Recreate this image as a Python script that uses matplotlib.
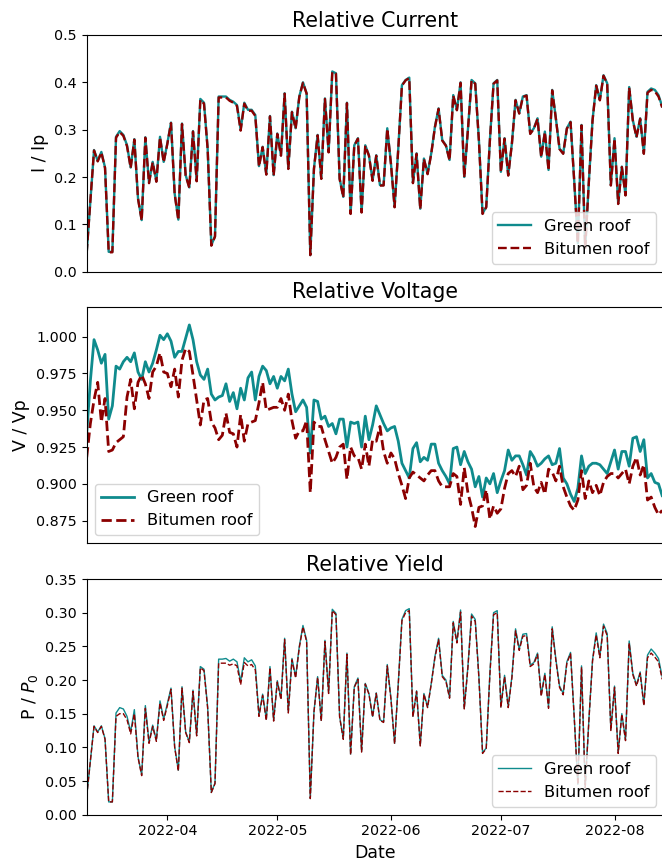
import pandas as pd
import matplotlib
matplotlib.use('Agg')
import matplotlib.pyplot as plt
import matplotlib.dates as mdates
from matplotlib.ticker import MultipleLocator, FormatStrFormatter

# daily measurements, 2022-03-10 .. 2022-08-14
dates = pd.date_range('2022-03-10', periods=158, freq='D')

green_current = [
    0.04, 0.15, 0.257, 0.234, 0.253, 0.22, 0.042, 0.042, 0.285, 0.297,
    0.289, 0.267, 0.22, 0.28, 0.155, 0.109, 0.284, 0.188, 0.232, 0.191,
    0.285, 0.232, 0.271, 0.315, 0.165, 0.11, 0.313, 0.204, 0.178, 0.297,
    0.192, 0.365, 0.357, 0.26, 0.056, 0.075, 0.37, 0.37, 0.37, 0.363,
    0.359, 0.352, 0.30, 0.357, 0.342, 0.342, 0.331, 0.223, 0.264, 0.206,
    0.329, 0.204, 0.292, 0.246, 0.377, 0.218, 0.338, 0.303, 0.37, 0.40,
    0.377, 0.035, 0.218, 0.289, 0.197, 0.366, 0.253, 0.423, 0.419, 0.197,
    0.158, 0.357, 0.123, 0.267, 0.282, 0.126, 0.267, 0.246, 0.193, 0.246,
    0.183, 0.183, 0.303, 0.229, 0.137, 0.26, 0.394, 0.405, 0.41, 0.188,
    0.25, 0.133, 0.239, 0.207, 0.25, 0.306, 0.345, 0.278, 0.267, 0.236,
    0.373, 0.342, 0.40, 0.20, 0.30, 0.405, 0.398, 0.278, 0.123, 0.137,
    0.278, 0.398, 0.405, 0.211, 0.282, 0.204, 0.271, 0.363, 0.335, 0.37,
    0.373, 0.292, 0.303, 0.324, 0.243, 0.296, 0.215, 0.384, 0.324, 0.26,
    0.25, 0.303, 0.317, 0.193, 0.06, 0.31, 0.05, 0.19, 0.32, 0.394,
    0.363, 0.415, 0.398, 0.183, 0.282, 0.144, 0.222, 0.162, 0.39, 0.32,
    0.285, 0.324, 0.25, 0.38, 0.387, 0.384, 0.373, 0.349]
bitumen_current = [
    0.04, 0.15, 0.256, 0.233, 0.252, 0.219, 0.041, 0.041, 0.283, 0.295,
    0.287, 0.265, 0.219, 0.279, 0.154, 0.108, 0.283, 0.187, 0.231, 0.19,
    0.284, 0.231, 0.27, 0.314, 0.164, 0.109, 0.312, 0.203, 0.177, 0.296,
    0.191, 0.363, 0.355, 0.259, 0.055, 0.074, 0.368, 0.368, 0.368, 0.361,
    0.357, 0.35, 0.298, 0.355, 0.34, 0.34, 0.329, 0.222, 0.263, 0.205,
    0.328, 0.203, 0.291, 0.245, 0.376, 0.217, 0.337, 0.302, 0.369, 0.399,
    0.376, 0.035, 0.217, 0.288, 0.196, 0.365, 0.252, 0.422, 0.418, 0.196,
    0.157, 0.356, 0.122, 0.266, 0.281, 0.125, 0.266, 0.245, 0.192, 0.245,
    0.182, 0.182, 0.302, 0.228, 0.136, 0.259, 0.393, 0.404, 0.409, 0.187,
    0.249, 0.132, 0.238, 0.206, 0.249, 0.305, 0.344, 0.277, 0.266, 0.235,
    0.372, 0.341, 0.399, 0.199, 0.299, 0.404, 0.397, 0.277, 0.122, 0.136,
    0.277, 0.397, 0.404, 0.21, 0.281, 0.203, 0.27, 0.362, 0.334, 0.369,
    0.372, 0.291, 0.302, 0.323, 0.242, 0.295, 0.214, 0.383, 0.323, 0.259,
    0.249, 0.302, 0.316, 0.192, 0.06, 0.309, 0.05, 0.19, 0.319, 0.393,
    0.362, 0.414, 0.397, 0.182, 0.281, 0.143, 0.221, 0.161, 0.389, 0.319,
    0.284, 0.323, 0.249, 0.378, 0.384, 0.381, 0.37, 0.347]

green_voltage = [
    0.934, 0.97, 0.998, 0.991, 0.982, 0.988, 0.944, 0.953, 0.98, 0.978,
    0.983, 0.986, 0.983, 0.989, 0.976, 0.971, 0.983, 0.976, 0.982, 0.991,
    1.001, 0.998, 1.002, 0.997, 0.986, 0.99, 0.99, 0.999, 1.008, 0.998,
    0.983, 0.974, 0.971, 0.978, 0.961, 0.957, 0.959, 0.96, 0.968, 0.956,
    0.962, 0.951, 0.965, 0.957, 0.972, 0.976, 0.957, 0.973, 0.98, 0.977,
    0.968, 0.973, 0.965, 0.973, 0.97, 0.978, 0.961, 0.949, 0.953, 0.957,
    0.952, 0.921, 0.957, 0.956, 0.944, 0.946, 0.939, 0.941, 0.934, 0.944,
    0.944, 0.925, 0.942, 0.941, 0.942, 0.925, 0.946, 0.93, 0.94, 0.953,
    0.947, 0.941, 0.936, 0.938, 0.939, 0.929, 0.914, 0.909, 0.904, 0.924,
    0.928, 0.915, 0.918, 0.916, 0.927, 0.927, 0.914, 0.909, 0.905, 0.9,
    0.924, 0.925, 0.913, 0.922, 0.915, 0.91, 0.898, 0.905, 0.891, 0.904,
    0.9, 0.907, 0.894, 0.902, 0.909, 0.923, 0.916, 0.919, 0.919, 0.913,
    0.906, 0.922, 0.918, 0.912, 0.914, 0.917, 0.919, 0.913, 0.914, 0.924,
    0.904, 0.9, 0.893, 0.888, 0.897, 0.919, 0.907, 0.912, 0.914, 0.914,
    0.913, 0.91, 0.907, 0.915, 0.923, 0.91, 0.922, 0.922, 0.912, 0.931,
    0.932, 0.922, 0.93, 0.904, 0.907, 0.901, 0.9, 0.892]
bitumen_voltage = [
    0.918, 0.941, 0.957, 0.969, 0.942, 0.958, 0.922, 0.923, 0.928, 0.93,
    0.932, 0.959, 0.971, 0.951, 0.969, 0.974, 0.968, 0.958, 0.976, 0.98,
    0.989, 0.976, 0.975, 0.966, 0.978, 0.959, 0.984, 0.992, 0.99, 0.974,
    0.957, 0.94, 0.957, 0.958, 0.942, 0.938, 0.93, 0.933, 0.948, 0.935,
    0.934, 0.925, 0.947, 0.929, 0.941, 0.942, 0.943, 0.955, 0.969, 0.95,
    0.951, 0.952, 0.952, 0.958, 0.95, 0.961, 0.943, 0.931, 0.936, 0.936,
    0.943, 0.894, 0.942, 0.939, 0.939, 0.93, 0.922, 0.914, 0.918, 0.925,
    0.927, 0.903, 0.925, 0.919, 0.918, 0.91, 0.927, 0.912, 0.93, 0.929,
    0.939, 0.922, 0.914, 0.921, 0.917, 0.907, 0.899, 0.89, 0.904, 0.908,
    0.906, 0.904, 0.902, 0.906, 0.909, 0.909, 0.902, 0.898, 0.898, 0.898,
    0.907, 0.905, 0.886, 0.911, 0.894, 0.884, 0.871, 0.884, 0.885, 0.896,
    0.876, 0.885, 0.88, 0.883, 0.897, 0.907, 0.909, 0.905, 0.912, 0.896,
    0.899, 0.914, 0.898, 0.894, 0.901, 0.893, 0.91, 0.908, 0.902, 0.912,
    0.898, 0.891, 0.885, 0.882, 0.889, 0.909, 0.89, 0.902, 0.894, 0.899,
    0.892, 0.901, 0.905, 0.907, 0.907, 0.904, 0.907, 0.91, 0.9, 0.912,
    0.918, 0.906, 0.913, 0.889, 0.891, 0.884, 0.879, 0.882]

green_yield = [
    0.027, 0.08, 0.132, 0.123, 0.132, 0.113, 0.019, 0.019, 0.151, 0.159,
    0.157, 0.146, 0.123, 0.156, 0.086, 0.059, 0.162, 0.108, 0.133, 0.111,
    0.169, 0.142, 0.165, 0.188, 0.101, 0.066, 0.19, 0.123, 0.108, 0.185,
    0.118, 0.22, 0.216, 0.16, 0.033, 0.047, 0.231, 0.231, 0.232, 0.228,
    0.231, 0.227, 0.198, 0.233, 0.227, 0.23, 0.221, 0.148, 0.179, 0.142,
    0.22, 0.14, 0.199, 0.173, 0.262, 0.153, 0.232, 0.205, 0.25, 0.281,
    0.259, 0.024, 0.153, 0.205, 0.14, 0.259, 0.181, 0.305, 0.299, 0.146,
    0.113, 0.24, 0.09, 0.19, 0.203, 0.094, 0.195, 0.18, 0.146, 0.181,
    0.141, 0.138, 0.223, 0.173, 0.106, 0.195, 0.29, 0.303, 0.306, 0.146,
    0.184, 0.103, 0.18, 0.16, 0.195, 0.235, 0.262, 0.207, 0.2, 0.174,
    0.287, 0.257, 0.304, 0.158, 0.22, 0.298, 0.29, 0.205, 0.092, 0.099,
    0.21, 0.3, 0.303, 0.16, 0.207, 0.16, 0.205, 0.276, 0.246, 0.268,
    0.269, 0.222, 0.226, 0.24, 0.178, 0.21, 0.16, 0.279, 0.231, 0.191,
    0.18, 0.227, 0.241, 0.146, 0.045, 0.221, 0.04, 0.14, 0.23, 0.27,
    0.235, 0.283, 0.269, 0.126, 0.191, 0.092, 0.15, 0.111, 0.258, 0.21,
    0.193, 0.212, 0.164, 0.237, 0.246, 0.24, 0.232, 0.205]
bitumen_yield = [
    0.027, 0.08, 0.131, 0.122, 0.131, 0.112, 0.019, 0.019, 0.146, 0.15,
    0.15, 0.141, 0.12, 0.15, 0.085, 0.058, 0.158, 0.106, 0.131, 0.109,
    0.166, 0.14, 0.162, 0.186, 0.1, 0.065, 0.188, 0.122, 0.107, 0.183,
    0.117, 0.218, 0.214, 0.158, 0.033, 0.046, 0.225, 0.225, 0.225, 0.222,
    0.224, 0.221, 0.193, 0.226, 0.221, 0.223, 0.215, 0.146, 0.177, 0.14,
    0.218, 0.139, 0.197, 0.171, 0.26, 0.151, 0.23, 0.203, 0.248, 0.279,
    0.257, 0.024, 0.152, 0.204, 0.139, 0.257, 0.18, 0.303, 0.297, 0.145,
    0.112, 0.238, 0.089, 0.189, 0.201, 0.093, 0.194, 0.179, 0.145, 0.18,
    0.14, 0.137, 0.221, 0.172, 0.105, 0.193, 0.288, 0.3, 0.303, 0.145,
    0.183, 0.102, 0.179, 0.159, 0.194, 0.233, 0.26, 0.205, 0.198, 0.173,
    0.285, 0.255, 0.301, 0.157, 0.218, 0.295, 0.287, 0.203, 0.091, 0.098,
    0.208, 0.297, 0.3, 0.159, 0.205, 0.159, 0.203, 0.273, 0.244, 0.265,
    0.266, 0.22, 0.224, 0.238, 0.176, 0.208, 0.158, 0.276, 0.229, 0.189,
    0.178, 0.225, 0.239, 0.145, 0.045, 0.219, 0.04, 0.139, 0.228, 0.267,
    0.233, 0.28, 0.266, 0.125, 0.189, 0.091, 0.149, 0.11, 0.255, 0.208,
    0.191, 0.21, 0.162, 0.233, 0.24, 0.234, 0.227, 0.201]

green_col = '#0f8b8d'
bitumen_col = '#8b0000'

fig = plt.figure(figsize=(6.62, 8.66), dpi=100)
x0, w = 86.7 / 662, (664 - 86.7) / 662
ax1 = fig.add_axes([x0, 1 - 271.7 / 866, w, 236.7 / 866])
ax2 = fig.add_axes([x0, 1 - 543 / 866, w, 236.3 / 866], sharex=ax1)
ax3 = fig.add_axes([x0, 1 - 814.7 / 866, w, 235.7 / 866], sharex=ax1)

# Relative current
ax1.plot(dates, green_current, color=green_col, lw=1.7, label='Green roof')
ax1.plot(dates, bitumen_current, color=bitumen_col, lw=1.7, ls='--', label='Bitumen roof')
ax1.set_ylim(0, 0.5)
ax1.set_ylabel('I / Ip', fontsize=12.5)
ax1.set_title('Relative Current', fontsize=14.8)
ax1.legend(loc='lower right', fontsize=11.7)

# Relative voltage
ax2.plot(dates, green_voltage, color=green_col, lw=2, label='Green roof')
ax2.plot(dates, bitumen_voltage, color=bitumen_col, lw=2, ls='--', label='Bitumen roof')
ax2.set_ylim(0.8598, 1.0204)
ax2.yaxis.set_major_locator(MultipleLocator(0.025))
ax2.yaxis.set_major_formatter(FormatStrFormatter('%.3f'))
ax2.set_ylabel('V / Vp', fontsize=12.5)
ax2.set_title('Relative Voltage', fontsize=14.8)
ax2.legend(loc='lower left', fontsize=11.7)

# Relative yield
ax3.plot(dates, green_yield, color=green_col, lw=1, label='Green roof')
ax3.plot(dates, bitumen_yield, color=bitumen_col, lw=1, ls='--', label='Bitumen roof')
ax3.set_ylim(0, 0.35)
ax3.set_ylabel('P / $P_0$', fontsize=12.5)
ax3.set_title('Relative Yield', fontsize=14.8)
ax3.set_xlabel('Date', fontsize=12.5)
ax3.legend(loc='lower right', fontsize=11.7)

ax3.xaxis.set_major_locator(mdates.MonthLocator())
ax3.xaxis.set_major_formatter(mdates.DateFormatter('%Y-%m'))
ax3.set_xlim(dates[0], dates[-1] + pd.Timedelta(hours=12))
for ax in (ax1, ax2):
    ax.tick_params(axis='x', bottom=False, labelbottom=False)
for ax in (ax1, ax2, ax3):
    ax.tick_params(labelsize=10.3)

fig.savefig('out.png', dpi=100)
